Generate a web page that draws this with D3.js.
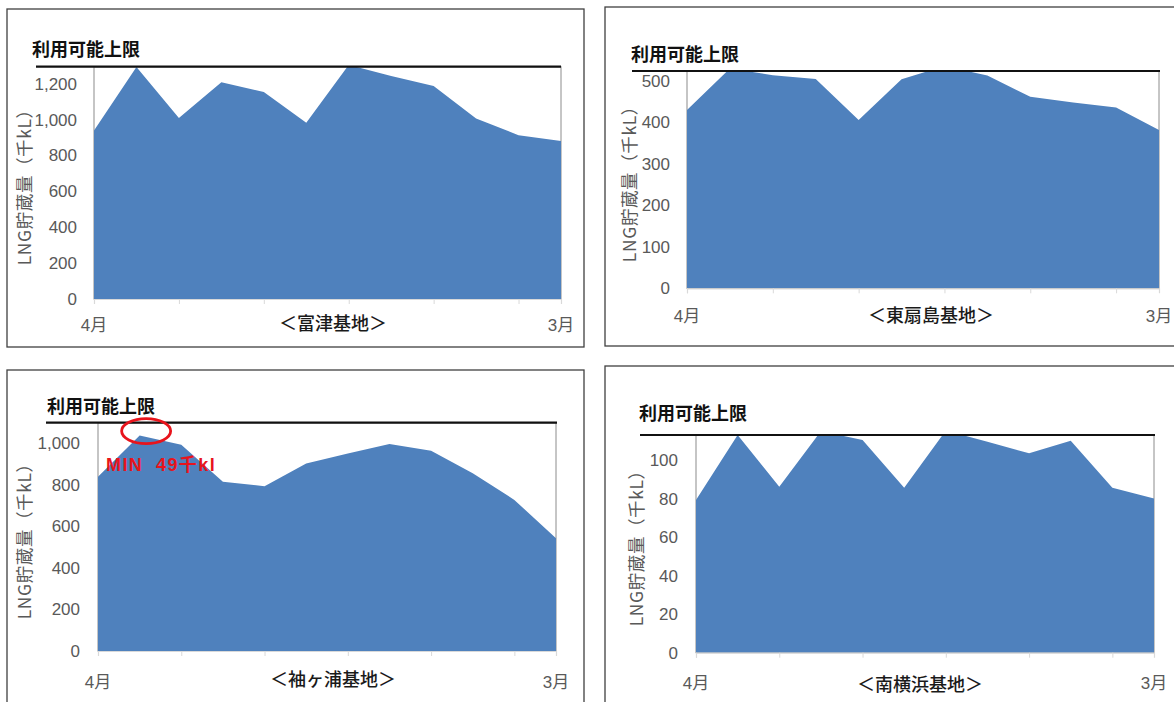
<!DOCTYPE html>
<html>
<head>
<meta charset="utf-8">
<script src="https://cdn.jsdelivr.net/npm/d3@7"></script>
<style>
  html, body { margin: 0; padding: 0; background: #fff; }
  svg { display: block; }
</style>
</head>
<body>
<svg id="chart" width="1174" height="702"></svg>
<script>
// ---------------- DATA ----------------
const months = ["4月","5月","6月","7月","8月","9月","10月","11月","12月","1月","2月","3月"];
const stations = ["＜富津基地＞", "＜東扇島基地＞", "＜袖ヶ浦基地＞", "＜南横浜基地＞"];
const futtsu = [940, 1293, 1009, 1209, 1154, 983, 1305, 1243, 1187, 1006, 913, 881];
const higashiOgishima = [430, 530, 514, 505, 406, 504, 536, 513, 462, 448, 436, 382];
const sodegaura = [840, 1038, 994, 816, 794, 904, 952, 997, 965, 856, 728, 543];
const minamiYokohama = [79.2, 113, 86.1, 115, 110.4, 85.6, 115.3, 109.5, 103.5, 110, 85.6, 80.1];
const limits = [1295, 524, 1100, 113];           // 利用可能上限
const yTicks = [
  [0, 200, 400, 600, 800, 1000, 1200],
  [0, 100, 200, 300, 400, 500],
  [0, 200, 400, 600, 800, 1000],
  [0, 20, 40, 60, 80, 100]
];
const limitLabel = "利用可能上限";
const yTitle = "LNG貯蔵量（千kL）";
const minNote = "MIN  49千kl";
const seriesList = [futtsu, higashiOgishima, sodegaura, minamiYokohama];

// ---------------- LAYOUT ----------------
const layout = [
  { frame:[7,9,577,338],   l:94,  r:561,  top:66.7, bottom:299,   limX0:36,  limX1:561,  labR:77,  yTitleX:23,  xLabY:325, titleX:333, titleY:322, limTX:32,  limTY:48 },
  { frame:[605,7,580,339], l:687, r:1159, top:71,   bottom:288.3, limX0:632, limX1:1160, labR:670, yTitleX:628, xLabY:316, titleX:931, titleY:314, limTX:631, limTY:53 },
  { frame:[7,370,577,345], l:98,  r:556,  top:422.7,bottom:651,   limX0:46,  limX1:557,  labR:80,  yTitleX:23,  xLabY:682, titleX:333, titleY:678, limTX:47,  limTY:405 },
  { frame:[605,366,580,345],l:696,r:1154, top:435,  bottom:652.7, limX0:640, limX1:1155, labR:678, yTitleX:635, xLabY:683, titleX:920, titleY:683, limTX:639, limTY:412 }
];

const FILL = "#4f81bd";
const GRAY_TXT = "#595959";
const LATIN = "'Liberation Sans', 'Noto Sans CJK JP', sans-serif";
const CJK = "'Noto Sans CJK JP', 'Liberation Sans', sans-serif";

const svg = d3.select("#chart");
const defs = svg.append("defs");

seriesList.forEach((data, pi) => {
  const L = layout[pi];
  const g = svg.append("g");

  // frame
  g.append("rect")
    .attr("x", L.frame[0]).attr("y", L.frame[1])
    .attr("width", L.frame[2]).attr("height", L.frame[3])
    .attr("fill", "none").attr("stroke", "#404040").attr("stroke-width", 1.3);

  const x = d3.scalePoint().domain(months).range([L.l, L.r]);
  const y = d3.scaleLinear().domain([0, limits[pi]]).range([L.bottom, L.top]);

  // clip
  const cid = "clip" + pi;
  defs.append("clipPath").attr("id", cid)
    .append("rect").attr("x", L.l).attr("y", L.top)
    .attr("width", L.r - L.l).attr("height", L.bottom - L.top);

  // plot area border (gray sides)
  g.append("rect")
    .attr("x", L.l).attr("y", L.top)
    .attr("width", L.r - L.l).attr("height", L.bottom - L.top)
    .attr("fill", "none").attr("stroke", "#8c8c8c").attr("stroke-width", 1);

  // area
  const area = d3.area()
    .x((d, i) => x(months[i]))
    .y0(y(0))
    .y1(d => y(d));
  g.append("path")
    .datum(data)
    .attr("clip-path", `url(#${cid})`)
    .attr("fill", FILL)
    .attr("d", area);

  // x axis baseline + ticks every 2 months
  const xAxis = d3.axisBottom(x)
    .tickValues(months.filter((m, i) => i % 2 === 0))
    .tickSize(5)
    .tickFormat("");
  const xg = g.append("g").attr("transform", `translate(0,${L.bottom})`).call(xAxis);
  xg.select(".domain").attr("stroke", "#d9d9d9").attr("stroke-width", 1.2);
  xg.selectAll(".tick line").attr("stroke", "#d9d9d9").attr("stroke-width", 1);

  // x labels (first & last)
  [0, months.length - 1].forEach(i => {
    g.append("text")
      .attr("x", x(months[i])).attr("y", L.xLabY)
      .attr("text-anchor", "middle").attr("dominant-baseline", "central")
      .attr("font-family", LATIN).attr("font-size", 17)
      .attr("fill", GRAY_TXT)
      .text(months[i]);
  });

  // y axis labels
  const yAxis = d3.axisLeft(y)
    .tickValues(yTicks[pi])
    .tickSize(0)
    .tickPadding(0)
    .tickFormat(d3.format(","));
  const yg = g.append("g").attr("transform", `translate(${L.labR},0)`).call(yAxis);
  yg.select(".domain").remove();
  yg.selectAll("text")
    .attr("font-family", LATIN).attr("font-size", 17)
    .attr("fill", GRAY_TXT);

  // y title
  const yMid = (L.top + L.bottom) / 2;
  g.append("text")
    .attr("transform", `translate(${L.yTitleX},${yMid}) rotate(-90)`)
    .attr("text-anchor", "middle").attr("dominant-baseline", "central")
    .attr("font-family", CJK).attr("font-size", 17.5)
    .attr("letter-spacing", 0.6)
    .attr("fill", GRAY_TXT)
    .text(yTitle);

  // limit line
  g.append("line")
    .attr("x1", L.limX0).attr("x2", L.limX1)
    .attr("y1", y(limits[pi])).attr("y2", y(limits[pi]))
    .attr("stroke", "#111").attr("stroke-width", 2.2);

  // limit label
  g.append("text")
    .attr("x", L.limTX).attr("y", L.limTY)
    .attr("dominant-baseline", "central")
    .attr("font-family", CJK).attr("font-size", 18).attr("font-weight", 700)
    .attr("fill", "#111")
    .text(limitLabel);

  // station title
  g.append("text")
    .attr("x", L.titleX).attr("y", L.titleY)
    .attr("text-anchor", "middle").attr("dominant-baseline", "central")
    .attr("font-family", CJK).attr("font-size", 18).attr("font-weight", 500)
    .attr("fill", "#1a1a1a")
    .text(stations[pi]);

  // annotation on 袖ヶ浦
  if (pi === 2) {
    const px = x(months[1]), py = y(data[1]);
    g.append("ellipse")
      .attr("cx", px + 6.5).attr("cy", py - 4.5)
      .attr("rx", 24.5).attr("ry", 12.5)
      .attr("fill", "none").attr("stroke", "#e8141c").attr("stroke-width", 2.8);
    g.append("text")
      .attr("x", L.l + 8).attr("y", py + 29)
      .attr("dominant-baseline", "central")
      .attr("font-family", LATIN).attr("font-size", 18).attr("font-weight", 700)
      .attr("letter-spacing", 1.4)
      .attr("fill", "#e8141c")
      .style("white-space", "pre")
      .attr("xml:space", "preserve")
      .text(minNote);
  }
});
</script>
</body>
</html>
